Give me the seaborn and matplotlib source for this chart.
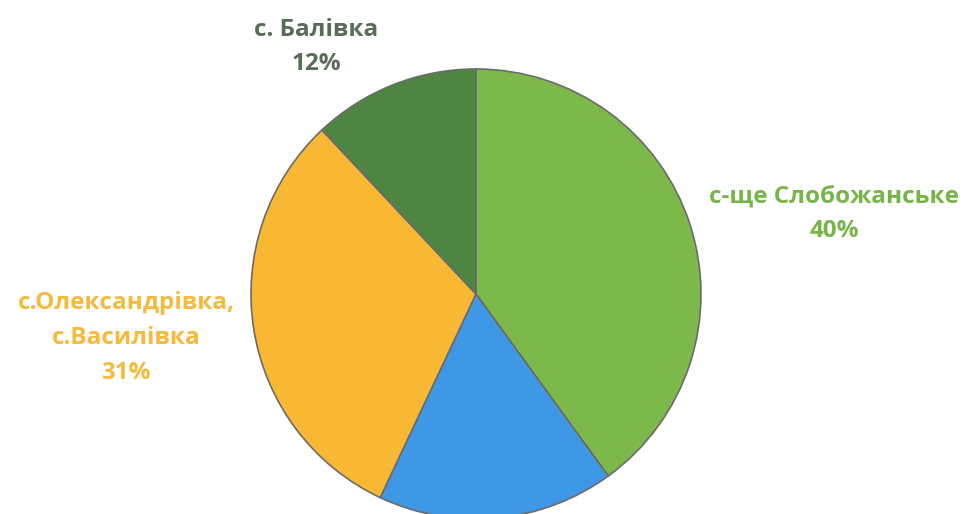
import matplotlib
matplotlib.use("Agg")
import matplotlib.pyplot as plt
import seaborn as sns

# Дані діаграми
labels = ["с-ще Слобожанське", "", "с.Олександрівка,\nс.Василівка", "с. Балівка"]
shares = [40, 17, 31, 12]
colors = ["#7db94a", "#3f98e6", "#f8b834", "#4f8543"]
label_colors = ["#78b548", "#3f98e6", "#f6ba3d", "#5b6b59"]

sns.set_theme(style="white")
plt.rcParams["font.family"] = ["Open Sans", "DejaVu Sans"]

fig = plt.figure(figsize=(9.66, 5.14), dpi=100)
ax = fig.add_axes([0, 0, 1, 1])

wedges, _ = ax.pie(shares, colors=colors, startangle=90, counterclock=False,
                   center=(476, 514 - 294), radius=225,
                   wedgeprops=dict(edgecolor="#6b6b6b", linewidth=1.2))
ax.set_xlim(0, 966)
ax.set_ylim(0, 514)
ax.set_aspect("equal")
ax.axis("off")

# підписи
label_pos = [(834, 514 - 214), None, (126, 514 - 338), (316, 514 - 47)]
for lab, val, col, pos in zip(labels, shares, label_colors, label_pos):
    if pos is None:
        continue
    ax.text(pos[0], pos[1], f"{lab}\n{val}%", ha="center", va="center",
            color=col, fontsize=17.5, fontweight="bold", linespacing=1.6)

fig.savefig("out.png", dpi=100)
